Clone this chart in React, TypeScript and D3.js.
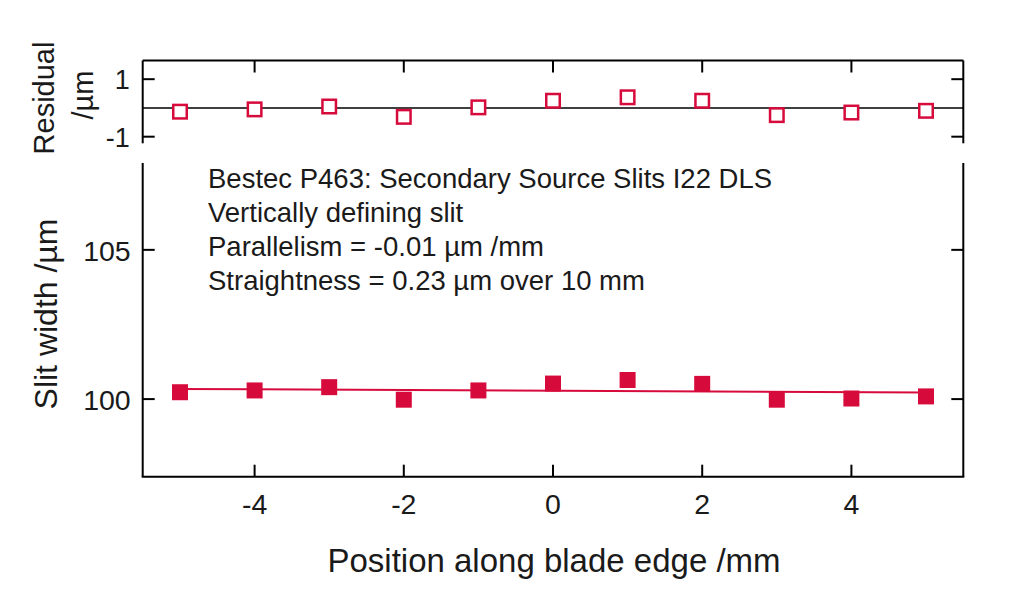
import React from "react";
import * as d3 from "d3";

const positions = [-5, -4, -3, -2, -1, 0, 1, 2, 3, 4, 5];
const slitWidth = [100.23, 100.29, 100.4, 99.98, 100.29, 100.52, 100.64, 100.51, 99.98, 100.02, 100.09];
const residuals = [-0.13, -0.05, 0.05, -0.31, 0.02, 0.25, 0.37, 0.25, -0.25, -0.16, -0.1];
const fitX = [-5, 5];
const fitY = [100.34, 100.22];
const xTicks = [-4, -2, 0, 2, 4];
const mainYTicks = [100, 105];
const residTicks = [-1, 1];
const annotation = [
  "Bestec P463: Secondary Source Slits I22 DLS",
  "Vertically defining slit",
  "Parallelism = -0.01 µm /mm",
  "Straightness = 0.23 µm over 10 mm",
];

const W = 1024;
const H = 589;
const left = 142.7;
const right = 963.3;
const resTop = 60.5;
const resBottom = 143.3;
const mainTop = 163;
const mainBottom = 476.7;
const RED = "#d70a3c";
const FONT = "'Liberation Sans', Arial, sans-serif";
const TXT = "#1a1a1a";

export default function App() {
  const x = d3.scaleLinear().domain([-5.5, 5.5]).range([left, right]);
  const yRes = d3.scaleLinear().domain([-1.23, 1.65]).range([resBottom, resTop]);
  const yMain = d3.scaleLinear().domain([97.4, 107.91]).range([mainBottom, mainTop]);
  const fitLine = d3
    .line<number>()
    .x((_, i) => x(fitX[i]))
    .y((d) => yMain(d));
  const tick = 12;
  const sq = 16;
  const hs = 13.5;

  return (
    <svg
      width={W}
      height={H}
      style={{ position: "absolute", left: 0, top: 0, background: "#fff" }}
      fontFamily={FONT}
    >
      {/* Residual panel frame */}
      <g stroke="#000" strokeWidth={2} fill="none">
        <line x1={left} x2={right} y1={resTop} y2={resTop} />
        <line x1={left} x2={left} y1={resTop} y2={resBottom} />
        <line x1={right} x2={right} y1={resTop} y2={resBottom} />
        {xTicks.map((t) => (
          <line key={"rt" + t} x1={x(t)} x2={x(t)} y1={resTop} y2={resTop + tick} />
        ))}
        {residTicks.map((t) => (
          <g key={"rr" + t}>
            <line x1={left} x2={left + tick} y1={yRes(t)} y2={yRes(t)} />
            <line x1={right} x2={right - tick} y1={yRes(t)} y2={yRes(t)} />
          </g>
        ))}
      </g>
      <line x1={left} x2={right} y1={yRes(0)} y2={yRes(0)} stroke="#000" strokeWidth={1.6} />
      {residTicks.map((t) => (
        <text
          key={"rl" + t}
          x={left - 13}
          y={yRes(t) + 1}
          textAnchor="end"
          dominantBaseline="central"
          fontSize={27}
          fill={TXT}
        >
          {t}
        </text>
      ))}
      <text
        transform={`translate(44,${98}) rotate(-90)`}
        textAnchor="middle"
        dominantBaseline="central"
        fontSize={29}
        fill={TXT}
      >
        Residual
      </text>
      <text
        transform={`translate(83,${95}) rotate(-90)`}
        textAnchor="middle"
        dominantBaseline="central"
        fontSize={29}
        fill={TXT}
      >
        /µm
      </text>
      {positions.map((p, i) => (
        <rect
          key={"res" + p}
          x={x(p) - hs / 2}
          y={yRes(residuals[i]) - hs / 2}
          width={hs}
          height={hs}
          fill="#fff"
          stroke={RED}
          strokeWidth={2.5}
        />
      ))}

      {/* Main panel frame */}
      <g stroke="#000" strokeWidth={2} fill="none">
        <line x1={left} x2={left} y1={mainTop} y2={mainBottom} />
        <line x1={right} x2={right} y1={mainTop} y2={mainBottom} />
        <line x1={left - 1} x2={right + 1} y1={mainBottom} y2={mainBottom} />
        {xTicks.map((t) => (
          <line key={"bt" + t} x1={x(t)} x2={x(t)} y1={mainBottom} y2={mainBottom - tick} />
        ))}
        {mainYTicks.map((t) => (
          <g key={"my" + t}>
            <line x1={left} x2={left + tick} y1={yMain(t)} y2={yMain(t)} />
            <line x1={right} x2={right - tick} y1={yMain(t)} y2={yMain(t)} />
          </g>
        ))}
      </g>
      {mainYTicks.map((t) => (
        <text
          key={"myl" + t}
          x={left - 12}
          y={yMain(t) + 1}
          textAnchor="end"
          dominantBaseline="central"
          fontSize={28.5}
          fill={TXT}
        >
          {t}
        </text>
      ))}
      {xTicks.map((t) => (
        <text
          key={"xl" + t}
          x={x(t)}
          y={504}
          textAnchor="middle"
          dominantBaseline="central"
          fontSize={28.5}
          fill={TXT}
        >
          {t}
        </text>
      ))}
      <text
        x={(left + right) / 2 + 1}
        y={560}
        textAnchor="middle"
        dominantBaseline="central"
        fontSize={33}
        fill={TXT}
      >
        Position along blade edge /mm
      </text>
      <text
        transform={`translate(46,${314}) rotate(-90)`}
        textAnchor="middle"
        dominantBaseline="central"
        fontSize={32}
        fill={TXT}
      >
        Slit width /µm
      </text>
      {annotation.map((s, i) => (
        <text key={"an" + i} x={208} y={178 + i * 34.3} dominantBaseline="central" fontSize={27.5} fill={TXT}>
          {s}
        </text>
      ))}
      <path d={fitLine(fitY) || ""} fill="none" stroke={RED} strokeWidth={2} />
      {positions.map((p, i) => (
        <rect
          key={"m" + p}
          x={x(p) - sq / 2}
          y={yMain(slitWidth[i]) - sq / 2}
          width={sq}
          height={sq}
          fill={RED}
        />
      ))}
    </svg>
  );
}
